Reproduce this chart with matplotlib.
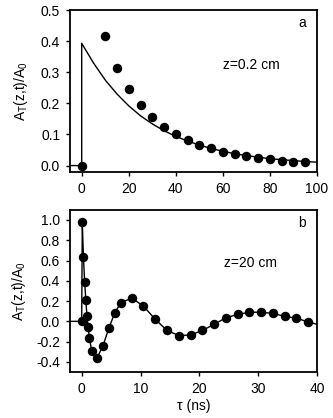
import matplotlib
matplotlib.use("Agg")
import matplotlib.pyplot as plt

plt.rcParams['font.family'] = ['Liberation Sans', 'DejaVu Sans']
plt.rcParams['font.size'] = 10

# panel a, z = 0.2 cm
a_pts_t = [0, 10, 15, 20, 25, 30, 35, 40, 45, 50, 55, 60, 65, 70, 75, 80, 85, 90, 95]
a_pts_v = [0.0, 0.415, 0.313, 0.245, 0.195, 0.155, 0.125, 0.102, 0.083, 0.067,
           0.055, 0.045, 0.037, 0.030, 0.025, 0.020, 0.016, 0.013, 0.011]
a_line_t = [-5, 0, 0, 5, 10, 15, 20, 25, 30, 35, 40, 45, 50, 55, 60, 65, 70, 75, 80, 85, 90, 95, 100]
a_line_v = [0.0, 0.0, 0.393, 0.33, 0.275, 0.230, 0.192, 0.160, 0.134, 0.112, 0.094, 0.079,
            0.066, 0.055, 0.046, 0.038, 0.032, 0.027, 0.022, 0.019, 0.016, 0.013, 0.011]

# panel b, z = 20 cm
b_pts_t = [0, 0.1, 0.3, 0.5, 0.7, 0.9, 1.1, 1.3, 1.7, 2.6, 3.6, 4.6, 5.6, 6.6, 8.5, 10.5,
           12.5, 14.5, 16.5, 18.5, 20.5, 22.5, 24.5, 26.5, 28.5, 30.5, 32.5, 34.5, 36.5, 38.5]
b_pts_v = [0.0, 0.98, 0.63, 0.39, 0.21, 0.05, -0.06, -0.16, -0.29, -0.36, -0.245, -0.07,
           0.08, 0.18, 0.23, 0.15, 0.02, -0.09, -0.14, -0.135, -0.09, -0.03, 0.035, 0.068,
           0.09, 0.09, 0.078, 0.05, 0.03, -0.005]
b_start_t = [-2, 0]
b_start_v = [0.0, 0.0]
b_end_t = [38.5, 40]
b_end_v = [-0.005, -0.03]

fig = plt.figure(figsize=(3.33, 4.18), dpi=100)
ax1 = fig.add_axes([0.210, 0.589, 0.742, 0.387])
ax2 = fig.add_axes([0.210, 0.110, 0.742, 0.388])

ax1.plot(a_line_t, a_line_v, color='black', lw=1.0)
ax1.plot(a_pts_t, a_pts_v, 'o', color='black', ms=5.8)
ax1.set_xlim(-5, 100)
ax1.set_ylim(-0.02, 0.5)
ax1.set_xticks([0, 20, 40, 60, 80, 100])
ax1.set_yticks([0.0, 0.1, 0.2, 0.3, 0.4, 0.5])
ax1.set_yticklabels(['0.0', '0.1', '0.2', '0.3', '0.4', '0.5'])
ax1.set_ylabel('A$_\\mathregular{T}$(z,t)/A$_\\mathregular{0}$', labelpad=8)
ax1.text(0.955, 0.92, 'a', transform=ax1.transAxes, ha='right', va='center')
ax1.text(0.735, 0.66, 'z=0.2 cm', transform=ax1.transAxes, ha='center', va='center')

ax2.plot(b_start_t + b_pts_t, b_start_v + b_pts_v, color='black', lw=1.0)
ax2.plot(b_end_t, b_end_v, color='black', lw=1.0)
ax2.plot(b_pts_t, b_pts_v, 'o', color='black', ms=5.8)
ax2.set_xlim(-2, 40)
ax2.set_ylim(-0.5, 1.1)
ax2.set_xticks([0, 10, 20, 30, 40])
ax2.set_yticks([-0.4, -0.2, 0.0, 0.2, 0.4, 0.6, 0.8, 1.0])
ax2.set_yticklabels(['-0.4', '-0.2', '0.0', '0.2', '0.4', '0.6', '0.8', '1.0'])
ax2.set_ylabel('A$_\\mathregular{T}$(z,t)/A$_\\mathregular{0}$', labelpad=6)
ax2.set_xlabel('τ (ns)', labelpad=2)
ax2.text(0.955, 0.92, 'b', transform=ax2.transAxes, ha='right', va='center')
ax2.text(0.73, 0.67, 'z=20 cm', transform=ax2.transAxes, ha='center', va='center')

for ax in (ax1, ax2):
    for s in ax.spines.values():
        s.set_linewidth(1.3)
    ax.tick_params(direction='out', length=3, width=1.0, pad=4)

fig.savefig('out.png', dpi=100)
